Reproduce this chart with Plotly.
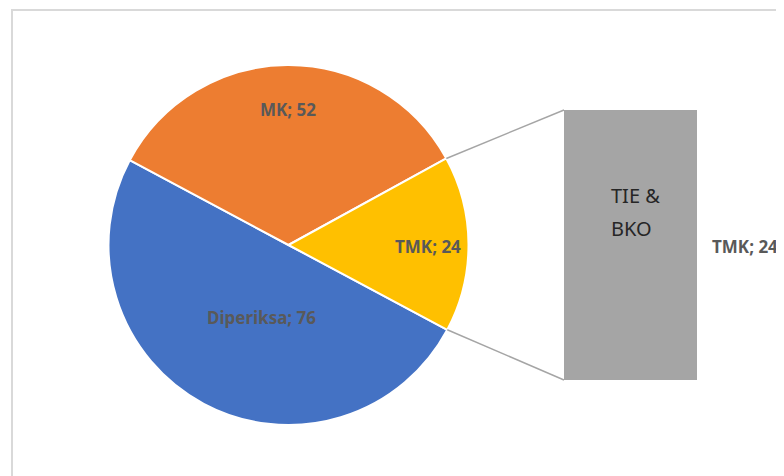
import math
import plotly.graph_objects as go

labels = ["Diperiksa", "MK", "TMK"]
values = [76, 52, 24]
colors = ["#4472C4", "#ED7D31", "#FFC000"]

bar_name = ["TIE &", "BKO"]
bar_value = 24
bar_label = "TMK"

W, H = 784, 476
OFF = 8  # page body margin
start_angle = 118.1  # degrees clockwise from 12 o'clock


def px_x(v):
    return (v - OFF) / W


def px_y(v):
    return 1 - (v - OFF) / H


# pie placement (paper)
pie_x = [px_x(108.5), px_x(468.5)]
pie_y = [px_y(425), px_y(65)]
# bar placement (paper)
bar_x = [px_x(564), px_x(697)]
bar_y = [px_y(380), px_y(110)]

fig = go.Figure()

fig.add_trace(
    go.Pie(
        labels=labels,
        values=values,
        sort=False,
        direction="clockwise",
        rotation=start_angle,
        marker=dict(colors=colors, line=dict(color="white", width=2)),
        textinfo="none",
        hoverinfo="label+value",
        domain=dict(x=pie_x, y=pie_y),
        showlegend=False,
    )
)

fig.add_trace(
    go.Bar(
        x=[0],
        y=[bar_value],
        width=1,
        marker=dict(color="#A5A5A5", line=dict(width=0)),
        hovertext=[bar_label],
        xaxis="x",
        yaxis="y",
        showlegend=False,
    )
)

# connector lines: from the edge of the small slice to the corners of the bar
cx = (pie_x[0] + pie_x[1]) / 2 * W
cy = (1 - (pie_y[0] + pie_y[1]) / 2) * H
r = min((pie_x[1] - pie_x[0]) * W, (pie_y[1] - pie_y[0]) * H) / 2
total = sum(values)
a_end = start_angle + 360 * total / total
a_start = start_angle + 360 * (total - values[-1]) / total


def edge(a):
    t = math.radians(a)
    return cx + r * math.sin(t), cy - r * math.cos(t)


p_top = edge(a_start)
p_bot = edge(a_end)
shapes = []
for (ex, ey), by in [(p_top, bar_y[1]), (p_bot, bar_y[0])]:
    shapes.append(
        dict(
            type="line", xref="paper", yref="paper",
            x0=ex / W, y0=1 - ey / H, x1=bar_x[0], y1=by,
            line=dict(color="#A5A5A5", width=1.5),
        )
    )
# chart frame
shapes.append(
    dict(
        type="rect", xref="paper", yref="paper",
        x0=px_x(12), y0=-0.02, x1=1.02, y1=px_y(10),
        line=dict(color="#D9D9D9", width=2),
    )
)

lab_font = dict(family="Noto Sans", size=17, color="#595959", weight="bold")
label_pos = [(204.5, 317), (288, 96), (428, 246)]
annotations = []
for (lx, ly), lab, val in zip(label_pos, labels, values):
    annotations.append(
        dict(
            x=px_x(lx), y=px_y(ly), xref="paper", yref="paper",
            text=f"{lab}; {val}", showarrow=False, font=lab_font,
        )
    )
annotations.append(
    dict(
        x=px_x(710), y=px_y(246), xref="paper", yref="paper",
        text=f"{bar_label}; {bar_value}", showarrow=False, font=lab_font,
        xanchor="left",
    )
)
for line_text, ly in zip(bar_name, [196, 228]):
    annotations.append(
        dict(
            x=px_x(609), y=px_y(ly), xref="paper", yref="paper",
            text=line_text, showarrow=False, xanchor="left",
            font=dict(family="Noto Sans", size=20, color="#262626"),
        )
    )

fig.update_layout(
    width=W,
    height=H,
    margin=dict(l=0, r=0, t=0, b=0),
    paper_bgcolor="white",
    plot_bgcolor="white",
    xaxis=dict(domain=bar_x, range=[-0.5, 0.5], visible=False, fixedrange=True),
    yaxis=dict(domain=bar_y, range=[0, bar_value], visible=False, fixedrange=True),
    shapes=shapes,
    annotations=annotations,
)

fig.write_html("out.html")
